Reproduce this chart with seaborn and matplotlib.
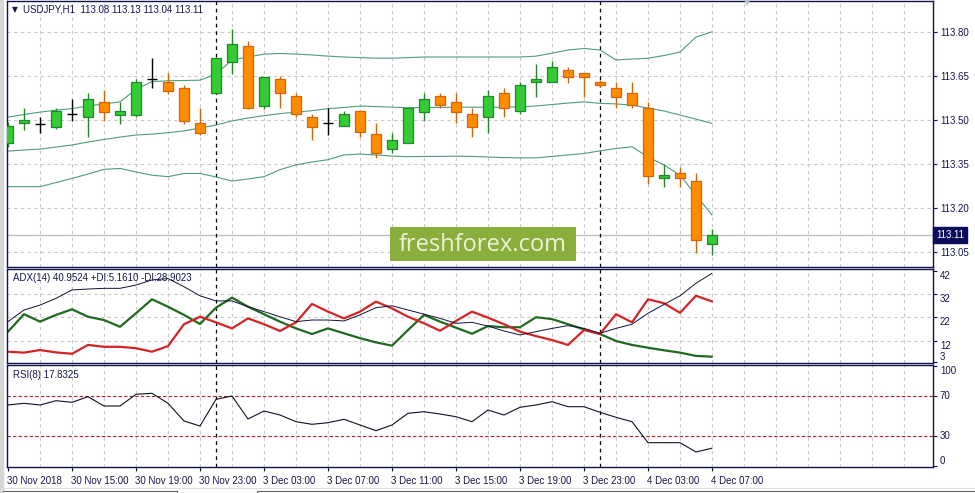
import numpy as np
import matplotlib
matplotlib.use("Agg")
import matplotlib.pyplot as plt
import matplotlib.transforms as mtransforms
from matplotlib.patches import Rectangle
from matplotlib.lines import Line2D
import seaborn as sns

sns.set_theme(style="white")
plt.rcParams['font.family'] = ['Liberation Sans', 'DejaVu Sans']

# ---------------- data ----------------
symbol = "USDJPY,H1"
open_ = [113.423, 113.490, 113.487, 113.478, 113.520, 113.510, 113.561, 113.519, 113.518, 113.641,
         113.631, 113.609, 113.490, 113.592, 113.700, 113.753, 113.550, 113.640, 113.582, 113.510,
         113.490, 113.481, 113.532, 113.452, 113.401, 113.422, 113.529, 113.582, 113.561, 113.520,
         113.510, 113.592, 113.531, 113.630, 113.630, 113.671, 113.660, 113.630, 113.609, 113.592,
         113.541, 113.303, 113.319, 113.293, 113.080]
high = [113.494, 113.542, 113.511, 113.542, 113.573, 113.592, 113.603, 113.563, 113.641, 113.711,
        113.662, 113.620, 113.541, 113.717, 113.810, 113.770, 113.649, 113.651, 113.594, 113.521,
        113.542, 113.532, 113.535, 113.490, 113.457, 113.541, 113.594, 113.592, 113.592, 113.541,
        113.603, 113.609, 113.630, 113.692, 113.701, 113.683, 113.660, 113.637, 113.630, 113.630,
        113.561, 113.350, 113.340, 113.319, 113.130]
low = [113.409, 113.467, 113.457, 113.470, 113.499, 113.443, 113.499, 113.487, 113.510, 113.609,
       113.590, 113.487, 113.450, 113.589, 113.658, 113.539, 113.539, 113.541, 113.510, 113.433,
       113.450, 113.481, 113.442, 113.370, 113.390, 113.422, 113.499, 113.541, 113.490, 113.442,
       113.458, 113.510, 113.520, 113.580, 113.630, 113.628, 113.580, 113.614, 113.541, 113.541,
       113.282, 113.272, 113.272, 113.049, 113.040]
close = [113.481, 113.501, 113.487, 113.532, 113.520, 113.572, 113.529, 113.531, 113.630, 113.641,
         113.601, 113.499, 113.458, 113.711, 113.760, 113.541, 113.649, 113.592, 113.520, 113.478,
         113.490, 113.520, 113.459, 113.390, 113.433, 113.541, 113.572, 113.551, 113.529, 113.478,
         113.582, 113.541, 113.619, 113.640, 113.681, 113.649, 113.649, 113.619, 113.580, 113.552,
         113.310, 113.312, 113.302, 113.092, 113.110]

bb_upper = [113.511, 113.520, 113.528, 113.535, 113.540, 113.549, 113.556, 113.563, 113.606, 113.632,
            113.635, 113.636, 113.637, 113.658, 113.706, 113.716, 113.726, 113.728, 113.726, 113.723,
            113.719, 113.716, 113.714, 113.712, 113.712, 113.714, 113.716, 113.716, 113.716, 113.716,
            113.716, 113.716, 113.716, 113.719, 113.729, 113.740, 113.745, 113.740, 113.706, 113.709,
            113.712, 113.721, 113.733, 113.784, 113.802]
bb_middle = [113.395, 113.399, 113.402, 113.409, 113.416, 113.426, 113.435, 113.443, 113.450, 113.453,
             113.458, 113.464, 113.474, 113.484, 113.498, 113.508, 113.516, 113.523, 113.528, 113.533,
             113.540, 113.544, 113.549, 113.547, 113.545, 113.543, 113.544, 113.544, 113.545, 113.545,
             113.545, 113.545, 113.546, 113.549, 113.554, 113.559, 113.563, 113.558, 113.556, 113.552,
             113.542, 113.532, 113.518, 113.504, 113.490]
bb_lower = [113.274, 113.274, 113.274, 113.288, 113.302, 113.317, 113.333, 113.336, 113.324, 113.313,
            113.308, 113.319, 113.319, 113.307, 113.293, 113.300, 113.308, 113.332, 113.348, 113.358,
            113.366, 113.382, 113.385, 113.382, 113.378, 113.376, 113.377, 113.377, 113.378, 113.377,
            113.375, 113.373, 113.372, 113.372, 113.377, 113.382, 113.387, 113.396, 113.404, 113.410,
            113.375, 113.348, 113.313, 113.245, 113.177]

adx = [20.2, 25.2, 27.3, 30.2, 33.8, 34.2, 34.5, 34.5, 35.9, 38.1,
       38.7, 35.2, 31.3, 29.1, 29.1, 26.6, 24.5, 22.3, 20.2, 20.9,
       20.9, 20.5, 23.1, 26.2, 27.0, 25.2, 23.4, 21.6, 19.5, 19.9,
       18.3, 16.2, 14.5, 15.9, 17.3, 18.5, 17.3, 15.2, 17.3, 19.1,
       23.8, 27.6, 31.3, 36.7, 40.95]
plus_di = [15.9, 23.4, 20.2, 23.1, 25.5, 22.3, 20.9, 18.0, 23.8, 29.8,
           26.6, 23.1, 19.2, 26.2, 30.5, 26.6, 23.4, 20.2, 17.3, 14.9,
           17.3, 15.2, 13.1, 11.3, 9.9, 16.6, 23.1, 20.2, 17.6, 15.0,
           18.3, 17.8, 17.8, 22.1, 21.3, 19.1, 16.9, 14.9, 11.9, 10.2,
           9.0, 7.9, 6.9, 5.5, 5.16]
minus_di = [7.3, 6.9, 8.0, 7.0, 6.4, 10.2, 9.4, 9.4, 8.8, 7.3,
            9.7, 19.1, 22.3, 19.9, 17.3, 21.6, 19.1, 16.2, 19.9, 27.8,
            24.5, 21.6, 24.5, 28.8, 25.9, 22.3, 19.5, 16.3, 20.5, 24.5,
            21.9, 19.1, 15.9, 14.0, 12.3, 10.2, 16.6, 14.9, 23.4, 19.9,
            29.8, 28.1, 24.0, 31.3, 28.9]
rsi = [61, 62.7, 61, 65.3, 63.7, 69.3, 60, 60, 71.7, 72.7,
       62.7, 45, 40, 66.7, 70, 47, 55, 51, 44.3, 41.7,
       43.3, 46.7, 41, 35.3, 41, 52.7, 54.3, 52, 49.3, 44.3,
       56, 51, 58.7, 61, 64.3, 59.3, 59.3, 53.7, 48.7, 44.3,
       23.3, 23.3, 23.3, 14, 17.83]

adx_label = "ADX(14) 40.9524 +DI:5.1610 -DI:28.9023"
rsi_label = "RSI(8) 17.8325"
price_ticks = [113.05, 113.20, 113.35, 113.50, 113.65, 113.80]
bid_price = 113.11
adx_ticks = [42, 32, 22, 12, 3]
adx_grid = [12, 22, 32]
rsi_ticks = [100, 70, 30, 0]
rsi_levels = [70, 30]
time_tick_pos = [0, 4, 8, 12, 16, 20, 24, 28, 32, 36, 40, 44]
time_tick_labels = ["30 Nov 2018", "30 Nov 15:00", "30 Nov 19:00", "30 Nov 23:00",
                    "3 Dec 03:00", "3 Dec 07:00", "3 Dec 11:00", "3 Dec 15:00",
                    "3 Dec 19:00", "3 Dec 23:00", "4 Dec 03:00", "4 Dec 07:00"]
day_starts = [13, 37]

# ---------------- style ----------------
W, H = 975, 493
NAVY = "#12124e"
TXT = "#16164f"
GRID = "#c8c8c8"
BULL_FILL, BULL_EDGE = "#33cc33", "#23862a"
BEAR_FILL, BEAR_EDGE = "#ff8c00", "#d2660a"
BB_COLOR = "#4e9c7c"
FS = 7

fig = plt.figure(figsize=(W / 100, H / 100), dpi=100)
fig.patch.set_facecolor("white")


def rect(x0, y0, x1, y1):
    return [x0 / W, 1 - y1 / H, (x1 - x0) / W, (y1 - y0) / H]


ax_main = fig.add_axes(rect(7, 1, 933, 266.7))
ax_adx = fig.add_axes(rect(7, 269, 933, 363.3))
ax_rsi = fig.add_axes(rect(7, 365, 933, 467.3))
axes = [ax_main, ax_adx, ax_rsi]

idx = np.arange(len(open_))
o = np.array(open_); h = np.array(high); l = np.array(low); c = np.array(close)

for ax in axes:
    ax.set_facecolor("white")
    ax.set_xlim(-0.0625, 57.8125)
    for s in ax.spines.values():
        s.set_color(NAVY)
        s.set_linewidth(1.0)
    for gx in np.arange(2, 58, 2):
        ax.axvline(gx, color=GRID, lw=0.8, ls=(0, (3, 3)), zorder=0)
    for d in day_starts:
        ax.axvline(d, color="black", lw=0.9, ls=(0, (3, 3)), zorder=1)
    ax.yaxis.tick_right()
    ax.tick_params(axis="y", which="both", direction="out", length=3, width=0.8,
                   color=NAVY, labelsize=FS, labelcolor=TXT, pad=2, left=False, right=True)

# ---------------- main panel ----------------
ax_main.set_ylim(113.001, 113.907)
for p in price_ticks:
    ax_main.axhline(p, color=GRID, lw=0.8, ls=(0, (3, 3)), zorder=0)
ax_main.axhline(bid_price, color="#c0c0c0", lw=1.0, zorder=0.5)

for series in (bb_upper, bb_middle, bb_lower):
    sns.lineplot(x=idx, y=series, ax=ax_main, color=BB_COLOR, linewidth=0.8, zorder=2)

bw = 0.625
bull = c > o
bear = c < o
doji = c == o
ax_main.vlines(idx[bull], l[bull], h[bull], color=BULL_EDGE, lw=1.0, zorder=3)
ax_main.vlines(idx[bear], l[bear], h[bear], color=BEAR_EDGE, lw=1.0, zorder=3)
ax_main.vlines(idx[doji], l[doji], h[doji], color="black", lw=1.0, zorder=3)
ax_main.bar(idx[bull], (c - o)[bull], bottom=o[bull], width=bw, color=BULL_FILL,
            edgecolor=BULL_EDGE, linewidth=0.9, zorder=4)
ax_main.bar(idx[bear], (o - c)[bear], bottom=c[bear], width=bw, color=BEAR_FILL,
            edgecolor=BEAR_EDGE, linewidth=0.9, zorder=4)
ax_main.hlines(c[doji], idx[doji] - bw / 2, idx[doji] + bw / 2, color="black", lw=1.0, zorder=4)

ax_main.set_yticks(price_ticks)
ax_main.set_yticklabels([f"{p:.2f}" for p in price_ticks])
ax_main.tick_params(axis="x", bottom=False, labelbottom=False)

bt = mtransforms.blended_transform_factory(ax_main.transAxes, ax_main.transData)
ax_main.text(1.0 + 3 / 926, bid_price, f"{bid_price:.2f}", transform=bt, ha="left", va="center",
             fontsize=FS, color="white", zorder=10, clip_on=False,
             bbox=dict(boxstyle="square,pad=0.3", fc="#0c0c5c", ec="#0c0c5c"))

# watermark
wm_ax = fig.add_axes(rect(390, 227.3, 576, 260.7))
wm_ax.set_facecolor("#8aae3c")
for s in wm_ax.spines.values():
    s.set_visible(False)
wm_ax.set_xticks([]); wm_ax.set_yticks([])
wm_ax.text(0.5, 0.47, "freshforex.com", ha="center", va="center", fontsize=17,
           color="#eef3d8", family=["Open Sans", "DejaVu Sans"], transform=wm_ax.transAxes)

# ---------------- ADX panel ----------------
ax_adx.set_ylim(2.32, 42.8)
for g in adx_grid:
    ax_adx.axhline(g, color=GRID, lw=0.8, ls=(0, (3, 3)), zorder=0)
sns.lineplot(x=idx, y=adx, ax=ax_adx, color="#10103a", linewidth=0.7, zorder=3)
sns.lineplot(x=idx, y=plus_di, ax=ax_adx, color="#1f6a1f", linewidth=1.6, zorder=2)
sns.lineplot(x=idx, y=minus_di, ax=ax_adx, color="#d42424", linewidth=1.6, zorder=2)
ax_adx.set_yticks(adx_ticks)
ax_adx.set_yticklabels([str(t) for t in adx_ticks])
for i, lab in enumerate(ax_adx.get_yticklabels()):
    lab.set_verticalalignment("bottom" if i == len(adx_ticks) - 1 else "top")
ax_adx.tick_params(axis="x", bottom=False, labelbottom=False)

# ---------------- RSI panel ----------------
ax_rsi.set_ylim(-1.3, 101)
for lv in rsi_levels:
    ax_rsi.axhline(lv, color="#b02020", lw=0.8, ls=(0, (3, 2)), zorder=1)
sns.lineplot(x=idx, y=rsi, ax=ax_rsi, color="#101028", linewidth=0.8, zorder=3)
ax_rsi.set_yticks(rsi_ticks)
ax_rsi.set_yticklabels([str(t) for t in rsi_ticks])
vas = ["top", "center", "center", "bottom"]
for lab, va in zip(ax_rsi.get_yticklabels(), vas):
    lab.set_verticalalignment(va)
ax_rsi.set_xticks(time_tick_pos)
ax_rsi.set_xticklabels(time_tick_labels, ha="left")
ax_rsi.tick_params(axis="x", bottom=True, direction="out", length=3, width=0.8, color=NAVY,
                   labelsize=FS, labelcolor=TXT, pad=3)
for lab in ax_rsi.get_xticklabels():
    lab.set_horizontalalignment("left")
offset = mtransforms.ScaledTranslation(-1 / 100, 0, fig.dpi_scale_trans)
for lab in ax_rsi.get_xticklabels():
    lab.set_transform(lab.get_transform() + offset)

for ax in axes:
    ax.set_xlabel("")
    ax.set_ylabel("")
    ax.grid(False)

# ---------------- texts ----------------
def ftext(x, y, s, **kw):
    fig.text(x / W, 1 - y / H, s, **kw)

ftext(11.5, 9.5, "\u25BC", fontsize=5.5, color=TXT, va="center", ha="left", family=["DejaVu Sans"])
ftext(23.3, 9.5, f"{symbol}  {open_[-1]:.2f} {high[-1]:.2f} {low[-1]:.2f} {close[-1]:.2f}",
      fontsize=FS, color=TXT, va="center", ha="left")
ftext(12.7, 278.3, adx_label, fontsize=FS, color=TXT, va="center", ha="left")
ftext(12.7, 375, rsi_label, fontsize=FS, color=TXT, va="center", ha="left")
ftext(747, 3, "\u25BC", fontsize=6, color="#b8c0d0", va="center", ha="center", family=["DejaVu Sans"])

# window frame details
fig.add_artist(Rectangle((0, 0), 3 / W, 1, transform=fig.transFigure, color="#d6d6d6", zorder=0))
fig.add_artist(Line2D([3 / W, 177 / W], [1 - 490.5 / H] * 2, transform=fig.transFigure,
                      color="#606060", lw=0.8))
fig.add_artist(Line2D([257 / W, 1.0], [1 - 490.5 / H] * 2, transform=fig.transFigure,
                      color="#606060", lw=0.8))
fig.add_artist(Line2D([177 / W] * 2, [0, 1 - 490.5 / H], transform=fig.transFigure,
                      color="#606060", lw=0.8))
fig.add_artist(Line2D([257 / W] * 2, [0, 1 - 490.5 / H], transform=fig.transFigure,
                      color="#606060", lw=0.8))
fig.add_artist(Line2D([0, 1], [1 - 487.5 / H] * 2, transform=fig.transFigure,
                      color="#e0e0e0", lw=0.8))

fig.savefig("out.png", dpi=100, facecolor="white")
